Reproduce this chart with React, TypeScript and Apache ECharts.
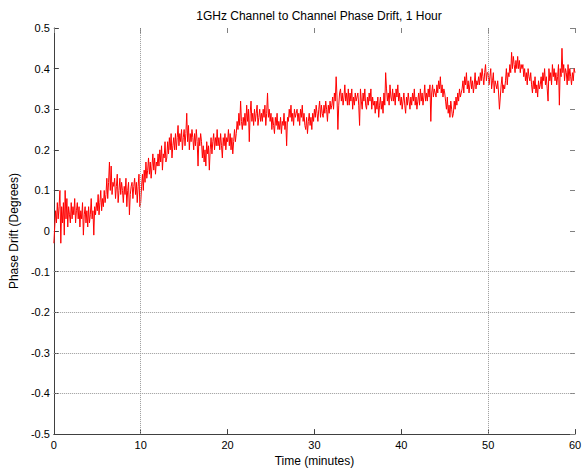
import React, { useEffect, useRef } from "react";
import * as echarts from "echarts";

const TITLE = "1GHz Channel to Channel Phase Drift, 1 Hour";
const X_NAME = "Time (minutes)";
const Y_NAME = "Phase Drift (Degrees)";

// sample spacing in minutes
const STEP = 0.1;

// phase drift readings, 10 per minute (one row per minute), then the value at 60
const drift: number[] = [
  -0.03, 0.01, 0.05, 0.02, 0.07, 0.03, 0.06, 0.10, -0.03, 0.06,
  0.02, 0.07, -0.01, 0.10, 0.03, 0.08, 0.01, 0.06, 0.04, 0.02,
  0.07, 0.03, 0.06, 0.04, 0.08, 0.02, 0.05, 0.07, 0.03, 0.06,
  0.01, 0.05, 0.03, 0.07, -0.01, 0.04, 0.06, 0.02, 0.05, 0.01,
  0.06, 0.02, 0.04, 0.08, 0.03, 0.05, -0.01, 0.06, 0.04, 0.07,
  0.05, 0.09, 0.04, 0.07, 0.10, 0.05, 0.08, 0.06, 0.10, 0.07,
  0.09, 0.13, 0.08, 0.12, 0.17, 0.10, 0.16, 0.09, 0.12, 0.11,
  0.13, 0.08, 0.11, 0.14, 0.07, 0.10, 0.13, 0.09, 0.12, 0.10,
  0.07, 0.11, 0.09, 0.13, 0.06, 0.10, 0.12, 0.04, 0.09, 0.11,
  0.12, 0.08, 0.11, 0.13, 0.09, 0.12, 0.07, 0.11, 0.14, 0.06,
  0.07, 0.11, 0.14, 0.10, 0.15, 0.12, 0.17, 0.13, 0.15, 0.18,
  0.14, 0.17, 0.13, 0.16, 0.19, 0.15, 0.18, 0.14, 0.17, 0.16,
  0.19, 0.16, 0.20, 0.17, 0.21, 0.15, 0.19, 0.18, 0.22, 0.17,
  0.18, 0.22, 0.19, 0.23, 0.20, 0.24, 0.18, 0.21, 0.23, 0.20,
  0.24, 0.20, 0.23, 0.26, 0.21, 0.24, 0.22, 0.25, 0.20, 0.23,
  0.25, 0.21, 0.24, 0.29, 0.22, 0.26, 0.20, 0.24, 0.22, 0.25,
  0.23, 0.20, 0.24, 0.21, 0.25, 0.22, 0.16, 0.23, 0.21, 0.24,
  0.22, 0.18, 0.21, 0.17, 0.20, 0.16, 0.22, 0.19, 0.21, 0.15,
  0.20, 0.23, 0.19, 0.22, 0.24, 0.20, 0.23, 0.21, 0.25, 0.21,
  0.23, 0.20, 0.24, 0.21, 0.18, 0.23, 0.21, 0.24, 0.20, 0.23,
  0.22, 0.25, 0.21, 0.24, 0.20, 0.23, 0.19, 0.22, 0.25, 0.22,
  0.24, 0.27, 0.25, 0.29, 0.26, 0.32, 0.27, 0.25, 0.28, 0.26,
  0.29, 0.26, 0.31, 0.27, 0.30, 0.22, 0.29, 0.32, 0.27, 0.29,
  0.26, 0.30, 0.27, 0.29, 0.31, 0.26, 0.28, 0.30, 0.27, 0.29,
  0.27, 0.30, 0.28, 0.31, 0.26, 0.29, 0.34, 0.28, 0.30, 0.27,
  0.29, 0.25, 0.28, 0.26, 0.24, 0.28, 0.26, 0.29, 0.25, 0.27,
  0.25, 0.28, 0.24, 0.27, 0.26, 0.29, 0.25, 0.27, 0.21, 0.28,
  0.27, 0.30, 0.28, 0.31, 0.27, 0.29, 0.26, 0.30, 0.28, 0.29,
  0.30, 0.27, 0.29, 0.26, 0.30, 0.28, 0.31, 0.27, 0.29, 0.26,
  0.25, 0.28, 0.24, 0.27, 0.29, 0.26, 0.28, 0.25, 0.29, 0.27,
  0.30, 0.28, 0.31, 0.29, 0.27, 0.30, 0.32, 0.28, 0.31, 0.29,
  0.28, 0.31, 0.29, 0.32, 0.30, 0.27, 0.31, 0.29, 0.32, 0.30,
  0.31, 0.33, 0.30, 0.34, 0.32, 0.38, 0.33, 0.25, 0.31, 0.34,
  0.35, 0.32, 0.34, 0.31, 0.33, 0.36, 0.32, 0.34, 0.31, 0.35,
  0.31, 0.34, 0.32, 0.35, 0.30, 0.33, 0.31, 0.34, 0.32, 0.33,
  0.34, 0.31, 0.26, 0.35, 0.32, 0.30, 0.34, 0.32, 0.35, 0.31,
  0.30, 0.33, 0.31, 0.34, 0.32, 0.35, 0.30, 0.33, 0.31, 0.32,
  0.29, 0.32, 0.30, 0.33, 0.28, 0.31, 0.33, 0.30, 0.32, 0.29,
  0.34, 0.31, 0.39, 0.35, 0.32, 0.34, 0.31, 0.36, 0.33, 0.32,
  0.35, 0.32, 0.34, 0.31, 0.35, 0.33, 0.36, 0.32, 0.34, 0.31,
  0.33, 0.30, 0.32, 0.34, 0.31, 0.29, 0.33, 0.31, 0.34, 0.32,
  0.30, 0.33, 0.31, 0.34, 0.32, 0.35, 0.31, 0.33, 0.30, 0.32,
  0.34, 0.31, 0.35, 0.32, 0.34, 0.31, 0.33, 0.36, 0.32, 0.34,
  0.32, 0.35, 0.33, 0.36, 0.27, 0.34, 0.36, 0.33, 0.35, 0.34,
  0.33, 0.36, 0.34, 0.37, 0.35, 0.38, 0.34, 0.36, 0.33, 0.35,
  0.34, 0.32, 0.30, 0.33, 0.29, 0.31, 0.28, 0.32, 0.30, 0.28,
  0.29, 0.32, 0.30, 0.33, 0.31, 0.34, 0.32, 0.35, 0.33, 0.34,
  0.35, 0.37, 0.34, 0.38, 0.36, 0.39, 0.35, 0.37, 0.34, 0.36,
  0.38, 0.35, 0.37, 0.34, 0.36, 0.39, 0.35, 0.37, 0.36, 0.38,
  0.36, 0.39, 0.37, 0.40, 0.38, 0.36, 0.39, 0.41, 0.37, 0.39,
  0.39, 0.36, 0.38, 0.40, 0.35, 0.37, 0.39, 0.34, 0.37, 0.36,
  0.35, 0.37, 0.34, 0.30, 0.33, 0.36, 0.38, 0.34, 0.36, 0.35,
  0.37, 0.40, 0.36, 0.39, 0.38, 0.41, 0.39, 0.44, 0.40, 0.43,
  0.41, 0.39, 0.42, 0.40, 0.43, 0.40, 0.42, 0.39, 0.41, 0.40,
  0.41, 0.38, 0.40, 0.37, 0.39, 0.36, 0.40, 0.38, 0.37, 0.39,
  0.36, 0.34, 0.37, 0.35, 0.38, 0.34, 0.36, 0.33, 0.37, 0.35,
  0.36, 0.38, 0.35, 0.39, 0.37, 0.40, 0.36, 0.38, 0.35, 0.32,
  0.40, 0.37, 0.39, 0.36, 0.41, 0.38, 0.40, 0.37, 0.39, 0.36,
  0.38, 0.41, 0.31, 0.40, 0.38, 0.45, 0.39, 0.41, 0.37, 0.40,
  0.39, 0.36, 0.41, 0.37, 0.40, 0.38, 0.36, 0.39, 0.37, 0.40,
  0.39,
];

// grid lines that show through in the reference
const xGridAt = [10, 50];
const yGridAt = [-0.1, -0.2, -0.3, -0.4];

const FONT = "Liberation Sans, Arial, Helvetica, sans-serif";

export default function App() {
  const ref = useRef<HTMLDivElement>(null);
  useEffect(() => {
    if (!ref.current) return;
    const chart = echarts.init(ref.current, undefined, { renderer: "svg" });
    const points = drift.map((v, i) => [Math.round(i * STEP * 100) / 100, v]);
    const axisColor = "#404040";
    const gridStyle = { color: "#9a9a9a", type: "dotted" as const, width: 1 };
    chart.setOption({
      animation: false,
      backgroundColor: "#ffffff",
      textStyle: { fontFamily: FONT },
      title: {
        text: TITLE,
        left: 314,
        top: 5,
        textAlign: "center",
        textStyle: { fontSize: 12, fontWeight: "normal", color: "#000", fontFamily: FONT },
      },
      grid: { left: 53, right: 12, top: 28, bottom: 34, containLabel: false },
      xAxis: [
        {
          type: "value",
          min: 0,
          max: 60,
          interval: 10,
          name: X_NAME,
          nameLocation: "middle",
          nameGap: 18,
          nameTextStyle: { fontSize: 12, color: "#000", fontFamily: FONT },
          axisLine: { show: true, onZero: false, lineStyle: { color: axisColor, width: 1 } },
          axisTick: { show: true, inside: true, length: 5, lineStyle: { color: axisColor } },
          axisLabel: { fontSize: 11, color: "#000", margin: 5, fontFamily: FONT },
          splitLine: { show: false },
        },
        {
          type: "value",
          position: "top",
          min: 0,
          max: 60,
          interval: 10,
          axisLine: { show: false, onZero: false },
          axisTick: { show: true, inside: true, length: 5, lineStyle: { color: "#808080" } },
          axisLabel: { show: false },
          splitLine: { show: false },
        },
      ],
      yAxis: [
        {
          type: "value",
          min: -0.5,
          max: 0.5,
          interval: 0.1,
          name: Y_NAME,
          nameLocation: "middle",
          nameGap: 29,
          nameTextStyle: { fontSize: 12, color: "#000", fontFamily: FONT },
          axisLine: { show: true, onZero: false, lineStyle: { color: axisColor, width: 1 } },
          axisTick: { show: true, inside: true, length: 5, lineStyle: { color: axisColor } },
          axisLabel: {
            fontSize: 11,
            color: "#000",
            margin: 4,
            fontFamily: FONT,
            formatter: (v: number) => String(Math.round(v * 10) / 10),
          },
          splitLine: { show: false },
        },
        {
          type: "value",
          position: "right",
          min: -0.5,
          max: 0.5,
          interval: 0.1,
          axisLine: { show: false, onZero: false },
          axisTick: { show: true, inside: true, length: 5, lineStyle: { color: "#808080" } },
          axisLabel: { show: false },
          splitLine: { show: false },
        },
      ],
      series: [
        {
          type: "line",
          data: points,
          showSymbol: false,
          symbol: "none",
          lineStyle: { color: "#ff0000", width: 1 },
          z: 3,
          markLine: {
            silent: true,
            symbol: "none",
            label: { show: false },
            lineStyle: gridStyle,
            data: [
              ...xGridAt.map((x) => ({ xAxis: x })),
              ...yGridAt.map((y) => ({ yAxis: y })),
            ],
          },
        },
      ],
    });
    return () => chart.dispose();
  }, []);
  return <div ref={ref} style={{ width: 587, height: 472, position: "absolute", left: 0, top: 0 }} />;
}
